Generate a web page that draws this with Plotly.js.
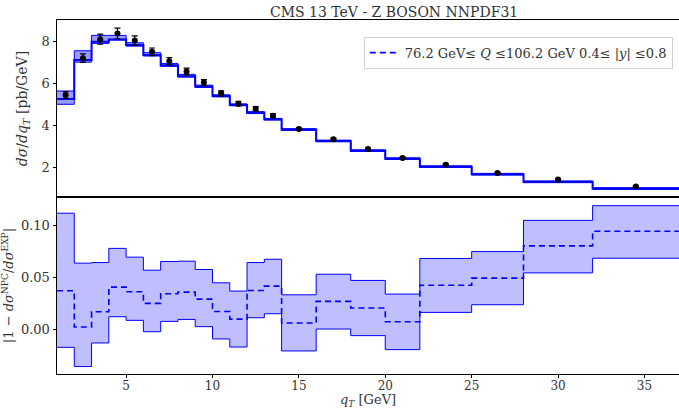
<!DOCTYPE html>
<html>
<head>
<meta charset="utf-8">
<script src="https://cdn.plot.ly/plotly-3.0.1.min.js"></script>
<style>html,body{margin:0;padding:0;background:#fff;}#chart{width:679px;height:408px;}</style>
</head>
<body>
<div id="chart"></div>
<script>
// Bin edges of q_T [GeV]
const binEdges = [1,2,3,4,5,6,7,8,9,10,11,12,13,14,16,18,20,22,25,28,32,37];
// Bin centres where data points sit
const qTCenters = [1.5,2.5,3.5,4.5,5.5,6.5,7.5,8.5,9.5,10.5,11.5,12.5,13.5,15,17,19,21,23.5,26.5,30,34.5];

// Top panel: theory prediction (central, band) and data
const theoryCentral = [5.25,7.10,7.97,8.08,7.81,7.34,6.85,6.33,5.84,5.39,4.97,4.60,4.29,3.80,3.26,2.80,2.42,2.04,1.68,1.32,1.00];
const theoryUpper   = [5.63,7.54,8.27,8.27,7.92,7.45,6.94,6.42,5.91,5.45,5.02,4.65,4.33,3.84,3.30,2.84,2.46,2.08,1.72,1.36,1.04];
const theoryLower   = [5.00,7.00,7.89,8.05,7.76,7.29,6.80,6.29,5.80,5.35,4.93,4.56,4.25,3.76,3.22,2.76,2.38,2.00,1.64,1.28,0.96];
const dataValues    = [5.44,7.19,8.09,8.36,8.03,7.49,7.05,6.56,6.03,5.52,5.03,4.79,4.46,3.83,3.34,2.88,2.45,2.13,1.74,1.43,1.10];
const dataErrors    = [0.16,0.20,0.24,0.25,0.22,0.18,0.17,0.16,0.14,0.12,0.11,0.10,0.10,0.06,0.05,0.04,0.04,0.03,0.03,0.02,0.02];

// Bottom panel: |1 - dsigma_NPC / dsigma_EXP|
const ratioCentral = [0.0370,0.0020,0.0167,0.0405,0.0360,0.0248,0.0341,0.0357,0.0289,0.0170,0.0096,0.0373,0.0415,0.0058,0.0267,0.0203,0.0071,0.0424,0.0492,0.0804,0.0945];
const ratioUpper   = [0.1120,0.0637,0.0643,0.0780,0.0695,0.0569,0.0653,0.0656,0.0576,0.0447,0.0367,0.0643,0.0675,0.0331,0.0530,0.0470,0.0338,0.0682,0.0749,0.1051,0.1193];
const ratioLower   = [-0.0177,-0.0363,-0.0135,0.0119,0.0084,-0.0026,0.0074,0.0093,0.0023,-0.0096,-0.0174,0.0109,0.0148,-0.0212,0.0000,-0.0064,-0.0199,0.0161,0.0235,0.0543,0.0685];

const legendLabel = '76.2 GeV\u2264 <i>Q</i> \u2264106.2 GeV 0.4\u2264 |<i>y</i>| \u22640.8';
const xTickVals = [5,10,15,20,25,30,35];

function stepY(v){ return v.concat([v[v.length-1]]); }

const BLUE = '#0000ff';
const FONT = '"DejaVu Serif", "Liberation Serif", serif';

const traces = [
  // top band
  {x: binEdges, y: stepY(theoryLower), xaxis:'x2', yaxis:'y2', mode:'lines', line:{shape:'hv', color:BLUE, width:1}, showlegend:false, hoverinfo:'skip'},
  {x: binEdges, y: stepY(theoryUpper), xaxis:'x2', yaxis:'y2', mode:'lines', line:{shape:'hv', color:BLUE, width:1}, fill:'tonexty', fillcolor:'rgba(0,0,255,0.4)', showlegend:false, hoverinfo:'skip'},
  {x: binEdges, y: stepY(theoryCentral), xaxis:'x2', yaxis:'y2', mode:'lines', line:{shape:'hv', color:BLUE, width:2}, showlegend:false},
  {x: qTCenters, y: dataValues, xaxis:'x2', yaxis:'y2', mode:'markers', marker:{color:'#000', size:6},
   error_y:{type:'data', array:dataErrors, visible:true, color:'#000', thickness:1.2, width:3}, showlegend:false},
  // bottom band
  {x: binEdges, y: stepY(ratioLower), xaxis:'x', yaxis:'y', mode:'lines', line:{shape:'hv', color:BLUE, width:1}, showlegend:false, hoverinfo:'skip'},
  {x: binEdges, y: stepY(ratioUpper), xaxis:'x', yaxis:'y', mode:'lines', line:{shape:'hv', color:BLUE, width:1}, fill:'tonexty', fillcolor:'rgba(0,0,255,0.25)', showlegend:false, hoverinfo:'skip'},
  {x: binEdges, y: stepY(ratioCentral), xaxis:'x', yaxis:'y', mode:'lines', line:{shape:'hv', color:BLUE, width:1.6, dash:'6px,4px'}, name: legendLabel, showlegend:true}
];

const axisCommon = {showline:true, linecolor:'#000', linewidth:1, showgrid:false, zeroline:false,
  ticks:'outside', ticklen:3.5, tickcolor:'#000', tickfont:{family:FONT, size:13, color:'#333'}};

const layout = {
  width:679, height:408,
  margin:{l:57, r:0, t:20, b:34},
  paper_bgcolor:'#fff', plot_bgcolor:'#fff',
  font:{family:FONT, color:'#333'},
  title:{text:'CMS 13 TeV - Z BOSON NNPDF31', font:{family:FONT, size:14, color:'#333'}, x:0.542, xanchor:'center', xref:'paper', y:1-12/408, yanchor:'middle', yref:'container'},
  xaxis: Object.assign({}, axisCommon, {mirror:true, domain:[0,1], anchor:'y', range:[1,37], tickvals:xTickVals, ticklen:3,
    ticklabelstandoff:-2, tickfont:{family:FONT, size:12, color:'#333'}}),
  xaxis2: Object.assign({}, axisCommon, {mirror:true, domain:[0,1], anchor:'y2', range:[1,37], matches:'x', showticklabels:false, ticks:''}),
  yaxis: Object.assign({}, axisCommon, {domain:[0,0.5], anchor:'x', range:[-0.0435,0.1277], tickvals:[0,0.05,0.1], tickformat:'.2f',
    title:{text:'|1 \u2212 <i>dσ</i><sup>NPC</sup>/<i>dσ</i><sup>EXP</sup>|', font:{family:FONT, size:13, color:'#333'}, standoff:4}}),
  yaxis2: Object.assign({}, axisCommon, {domain:[0.5,1], anchor:'x2', range:[0.6,9.0], tickvals:[2,4,6,8],
    title:{text:'<i>dσ</i>/<i>dq</i><sub><i>T</i></sub> [pb/GeV]', font:{family:FONT, size:14, color:'#333'}, standoff:10}}),
  annotations:[{text:'<i>q</i><sub><i>T</i></sub> [GeV]', xref:'paper', yref:'paper', x:0.5, y:-26.5/354, xanchor:'center', yanchor:'middle', showarrow:false,
    font:{family:FONT, size:13, color:'#333'}}],
  legend:{x:0.99, xanchor:'right', y:0.953, yanchor:'top', bgcolor:'rgba(255,255,255,0.8)', bordercolor:'#d0d0d0', borderwidth:1,
    font:{family:FONT, size:13, color:'#333'}, itemwidth:30}
};

Plotly.newPlot('chart', traces, layout, {displayModeBar:false, staticPlot:true});
</script>
</body>
</html>
